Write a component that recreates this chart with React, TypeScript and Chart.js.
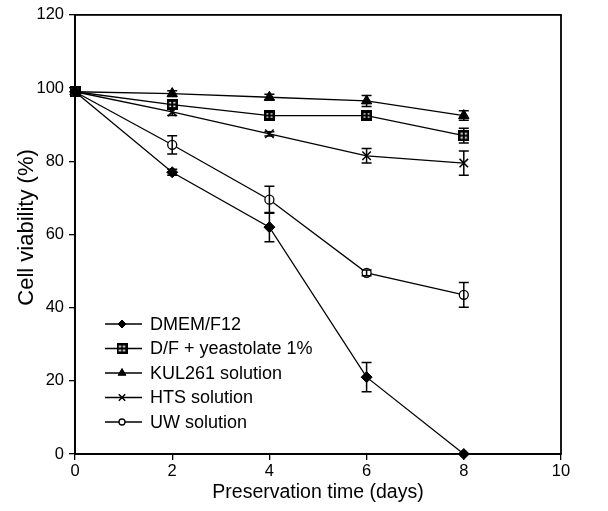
import React, { useEffect, useRef } from 'react';
import { Chart, registerables } from 'chart.js';
import { drawPoint } from 'chart.js/helpers';

Chart.register(...registerables);

const days = [0, 2, 4, 6, 8];
const seriesNames = ['DMEM/F12', 'D/F + yeastolate 1%', 'KUL261 solution', 'HTS solution', 'UW solution'];
const dmemValues = [99, 77, 62, 21, 0];
const dmemErrors = [0, 0.8, 4, 4, 0];
const yeastolateValues = [99, 95.5, 92.5, 92.5, 87];
const yeastolateErrors = [0, 1, 0.8, 0.8, 2];
const kulValues = [99, 98.5, 97.5, 96.5, 92.5];
const kulErrors = [0, 0.8, 0.8, 1.5, 1.3];
const htsValues = [99, 93.5, 87.5, 81.5, 79.5];
const htsErrors = [0, 1, 0.6, 2, 3.3];
const uwValues = [99, 84.5, 69.5, 49.5, 43.5];
const uwErrors = [0, 2.5, 3.7, 0.8, 3.4];
const xTitle = 'Preservation time (days)';
const yTitle = 'Cell viability (%)';
const xMin = 0, xMax = 10, xStep = 2;
const yMin = 0, yMax = 120, yStep = 20;

const FONT = '"Liberation Sans", Arial, Helvetica, sans-serif';

function makeHatchMarker(): HTMLCanvasElement {
  const c = document.createElement('canvas');
  const s = 11;
  c.width = s; c.height = s;
  const g = c.getContext('2d')!;
  g.fillStyle = '#000';
  g.fillRect(0, 0, s, s);
  g.fillStyle = '#fff';
  [[2, 2], [6, 2], [2, 6], [6, 6]].forEach(([x, y]) => g.fillRect(x + 0.5, y + 0.5, 2, 2));
  return c;
}

const errorBarPlugin = {
  id: 'errorBars',
  afterDatasetsDraw(chart: any) {
    const ctx = chart.ctx;
    const yScale = chart.scales.y;
    ctx.save();
    ctx.strokeStyle = '#000';
    ctx.lineWidth = 1.5;
    chart.data.datasets.forEach((ds: any, i: number) => {
      const meta = chart.getDatasetMeta(i);
      (ds.errors || []).forEach((err: number, j: number) => {
        if (!err) return;
        const pt = meta.data[j];
        const v = ds.data[j].y;
        const top = yScale.getPixelForValue(v + err);
        const bot = yScale.getPixelForValue(v - err);
        const x = pt.x;
        const cap = 5;
        ctx.beginPath();
        ctx.moveTo(x, top); ctx.lineTo(x, bot);
        ctx.moveTo(x - cap, top); ctx.lineTo(x + cap, top);
        ctx.moveTo(x - cap, bot); ctx.lineTo(x + cap, bot);
        ctx.stroke();
      });
    });
    ctx.restore();
  },
};

const boxPlugin = {
  id: 'box',
  afterDraw(chart: any) {
    const { ctx, chartArea: a } = chart;
    ctx.save();
    ctx.strokeStyle = '#000';
    ctx.lineWidth = 1.8;
    ctx.strokeRect(a.left, a.top, a.right - a.left, a.bottom - a.top);
    // y-axis title
    ctx.translate(27, (a.top + a.bottom) / 2 - 7);
    ctx.rotate(-Math.PI / 2);
    ctx.fillStyle = '#000';
    ctx.font = `22px ${FONT}`;
    ctx.textAlign = 'center';
    ctx.textBaseline = 'middle';
    ctx.fillText(yTitle, 0, 0);
    ctx.restore();
  },
};

const legendPlugin = {
  id: 'innerLegend',
  afterDraw(chart: any) {
    const { ctx, chartArea: a } = chart;
    ctx.save();
    const rowH = 24.5;
    const startY = a.bottom - 130;
    chart.data.datasets.forEach((ds: any, i: number) => {
      const y = startY + i * rowH;
      const x0 = a.left + 30, x1 = a.left + 67, xm = a.left + 47;
      ctx.strokeStyle = '#000';
      ctx.lineWidth = 1.3;
      ctx.beginPath();
      ctx.moveTo(x0, y); ctx.lineTo(x1, y);
      ctx.stroke();
      ctx.fillStyle = ds.pointBackgroundColor;
      ctx.strokeStyle = '#000';
      ctx.lineWidth = ds.pointBorderWidth;
      drawPoint(ctx, {
        pointStyle: ds.pointStyle,
        radius: Math.max(3, ds.pointRadius - 1.5),
        rotation: 0,
        borderWidth: ds.pointBorderWidth,
      } as any, xm, y);
      ctx.fillStyle = '#000';
      ctx.font = `18px ${FONT}`;
      ctx.textBaseline = 'middle';
      ctx.textAlign = 'left';
      ctx.fillText(ds.label, a.left + 75, y + 1);
    });
    ctx.restore();
  },
};

export default function App() {
  const ref = useRef<HTMLCanvasElement | null>(null);

  useEffect(() => {
    if (!ref.current) return;
    const hatch = makeHatchMarker();
    const toPts = (vals: number[]) => vals.map((v, i) => ({ x: days[i], y: v }));
    const base = {
      borderColor: '#000',
      borderWidth: 1.3,
      pointBorderColor: '#000',
      clip: false as any,
      tension: 0,
    };
    const chart = new Chart(ref.current, {
      type: 'line',
      data: {
        datasets: [
          { ...base, label: seriesNames[0], data: toPts(dmemValues), errors: dmemErrors, pointStyle: 'rectRot', pointRadius: 5.5, pointBackgroundColor: '#000', pointBorderWidth: 1 } as any,
          { ...base, label: seriesNames[1], data: toPts(yeastolateValues), errors: yeastolateErrors, pointStyle: hatch, pointRadius: 5, pointBackgroundColor: '#000', pointBorderWidth: 1 } as any,
          { ...base, label: seriesNames[2], data: toPts(kulValues), errors: kulErrors, pointStyle: 'triangle', pointRadius: 6, pointBackgroundColor: '#000', pointBorderWidth: 1 } as any,
          { ...base, label: seriesNames[3], data: toPts(htsValues), errors: htsErrors, pointStyle: 'crossRot', pointRadius: 6, pointBackgroundColor: '#000', pointBorderWidth: 1.5 } as any,
          { ...base, label: seriesNames[4], data: toPts(uwValues), errors: uwErrors, pointStyle: 'circle', pointRadius: 4.5, pointBackgroundColor: '#fff', pointBorderWidth: 1.3 } as any,
        ],
      },
      options: {
        animation: false,
        responsive: true,
        maintainAspectRatio: false,
        layout: { padding: { top: 14, right: 47, left: 0, bottom: 0 } },
        plugins: { legend: { display: false }, tooltip: { enabled: false } },
        scales: {
          x: {
            type: 'linear',
            min: xMin, max: xMax,
            ticks: { stepSize: xStep, color: '#000', font: { family: FONT, size: 16.5 }, padding: 2, maxRotation: 0 },
            grid: { drawOnChartArea: false, drawTicks: true, tickLength: 6, color: '#000', lineWidth: 1.3 },
            border: { display: true, color: '#000', width: 1.8 },
            title: { display: true, text: xTitle, color: '#000', font: { family: FONT, size: 19.5 }, padding: { top: 0, bottom: 7 } },
            afterFit: (s: any) => { s.height = 57; },
          },
          y: {
            type: 'linear',
            min: yMin, max: yMax,
            ticks: { stepSize: yStep, color: '#000', font: { family: FONT, size: 16.5 }, padding: 5 },
            grid: { drawOnChartArea: false, drawTicks: true, tickLength: 6, color: '#000', lineWidth: 1.3 },
            border: { display: true, color: '#000', width: 1.8 },
            title: { display: false },
            afterFit: (s: any) => { s.width = 75; },
          },
        },
      } as any,
      plugins: [errorBarPlugin, boxPlugin, legendPlugin],
    });
    return () => chart.destroy();
  }, []);

  return (
    <div style={{ position: 'absolute', left: 0, top: 0, width: 608, height: 511, background: '#fff' }}>
      <canvas ref={ref} />
    </div>
  );
}
